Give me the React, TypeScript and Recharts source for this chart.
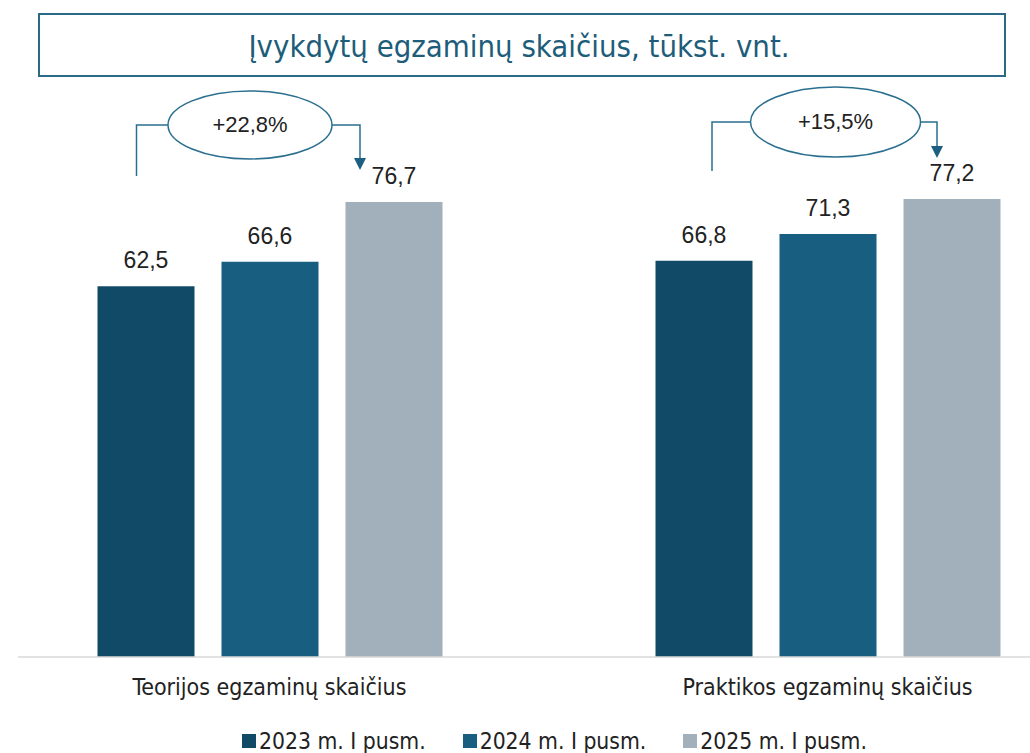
import React from "react";
import { BarChart, Bar, XAxis, YAxis, LabelList, Customized } from "recharts";

const categories = ["Teorijos egzaminų skaičius", "Praktikos egzaminų skaičius"];
const seriesNames = ["2023 m. I pusm.", "2024 m. I pusm.", "2025 m. I pusm."];
const values2023 = [62.5, 66.8];
const values2024 = [66.6, 71.3];
const values2025 = [76.7, 77.2];
const changeLabels = ["+22,8%", "+15,5%"];
const titleText = "Įvykdytų egzaminų skaičius, tūkst. vnt.";

const colors = ["#114a66", "#175e80", "#a2b0bc"];
const keys = ["y2023", "y2024", "y2025"];

const data = categories.map((c, i) => ({
  name: c,
  y2023: values2023[i],
  y2024: values2024[i],
  y2025: values2025[i],
  change: changeLabels[i],
}));

const W = 1030;
const H = 753;
const X_AXIS_H = 30;
const MARGIN = { top: 123, right: 0, bottom: 96 - X_AXIS_H, left: 18 };
const PAD_L = -27.5;
const PAD_R = -76.5;
const Y_MAX = 90;
const BAR = 97;
const GAP = 27;

const NARROW = "'Liberation Sans Narrow', 'DejaVu Sans Condensed', 'Roboto', sans-serif";
const ARIAL = "'Liberation Sans', Arial, sans-serif";
const LINE = "#2a6f8f";

const fmt = (v: number) => v.toFixed(1).replace(".", ",");

function Annotations() {
  const plotW = W - MARGIN.left - MARGIN.right;
  const plotH = H - MARGIN.top - MARGIN.bottom - X_AXIS_H;
  const rangeStart = MARGIN.left + PAD_L;
  const band = (plotW - PAD_L - PAD_R) / categories.length;
  const xOf = (cat: number, s: number) => rangeStart + band * (cat + 0.5) + (s - 1) * (BAR + GAP);
  const yOf = (v: number) => MARGIN.top + plotH - (v / Y_MAX) * plotH;
  const geo = [
    { lineDx: -9, ellDx: -19.5, rx: 82, ry: 34, arrowDx: -33.5, lineBottom: -26, tip: -32 },
    { lineDx: 8.5, ellDx: 8, rx: 85, ry: 35, arrowDx: -14.5, lineBottom: -28, tip: -41 },
  ];
  return (
    <g>
      <rect x={39} y={14} width={966} height={62} fill="#fff" stroke="#2b6a85" strokeWidth={2} />
      <text x={519} y={46} textAnchor="middle" dominantBaseline="central" fontFamily={NARROW} fontSize={30.8} fill="#1d5d7a">
        {titleText}
      </text>
      {categories.map((c, i) => {
        const g = geo[i];
        const top3 = yOf(values2025[i]);
        const cy = top3 - 77;
        const cx = xOf(i, 1) + g.ellDx;
        const lx = xOf(i, 0) + g.lineDx;
        const ax = xOf(i, 2) + g.arrowDx;
        const tipY = top3 + g.tip;
        return (
          <g key={c}>
            <polyline points={`${lx},${top3 + g.lineBottom} ${lx},${cy} ${cx - g.rx},${cy}`} fill="none" stroke={LINE} strokeWidth={1.5} />
            <polyline points={`${cx + g.rx},${cy} ${ax},${cy} ${ax},${tipY - 11}`} fill="none" stroke={LINE} strokeWidth={1.5} />
            <polygon points={`${ax - 6},${tipY - 12} ${ax + 6},${tipY - 12} ${ax},${tipY}`} fill="#1c5f80" />
            <ellipse cx={cx} cy={cy} rx={g.rx} ry={g.ry} fill="#fff" stroke={LINE} strokeWidth={1.5} />
            <text x={cx} y={cy} textAnchor="middle" dominantBaseline="central" fontFamily={ARIAL} fontSize={22} fill="#222">
              {changeLabels[i]}
            </text>
          </g>
        );
      })}
    </g>
  );
}

function LegendRow() {
  return (
    <div style={{ position: "absolute", left: 0, top: 728, width: W, display: "flex", justifyContent: "flex-start", gap: 37, fontFamily: NARROW, fontSize: 22.7, color: "#222", paddingLeft: 242, boxSizing: "border-box" }}>
      {seriesNames.map((n, i) => (
        <div key={n} style={{ display: "flex", alignItems: "center" }}>
          <span style={{ display: "inline-block", width: 14, height: 14, background: colors[i], marginRight: 3 }} />
          <span style={{ lineHeight: "26px" }}>{n}</span>
        </div>
      ))}
    </div>
  );
}

export default function App() {
  return (
    <div style={{ position: "absolute", left: 0, top: 0, width: W, height: H, background: "#fff" }}>
      <BarChart width={W} height={H} data={data} margin={MARGIN} barSize={BAR} barGap={GAP}>
        <XAxis
          dataKey="name"
          height={X_AXIS_H}
          padding={{ left: PAD_L, right: PAD_R }}
          axisLine={{ stroke: "#d9d9d9", strokeWidth: 1.5 }}
          tickLine={false}
          tickMargin={16}
          tick={{ fontFamily: NARROW, fontSize: 23, fill: "#222" }}
        />
        <YAxis hide domain={[0, Y_MAX]} />
        {keys.map((k, i) => (
          <Bar key={k} dataKey={k} name={seriesNames[i]} fill={colors[i]} isAnimationActive={false}>
            <LabelList dataKey={k} position="top" offset={18} formatter={(v: any) => fmt(Number(v))} style={{ fontFamily: ARIAL, fontSize: 23, fill: "#222" }} />
          </Bar>
        ))}
        <Customized component={Annotations} />
      </BarChart>
      <LegendRow />
    </div>
  );
}
